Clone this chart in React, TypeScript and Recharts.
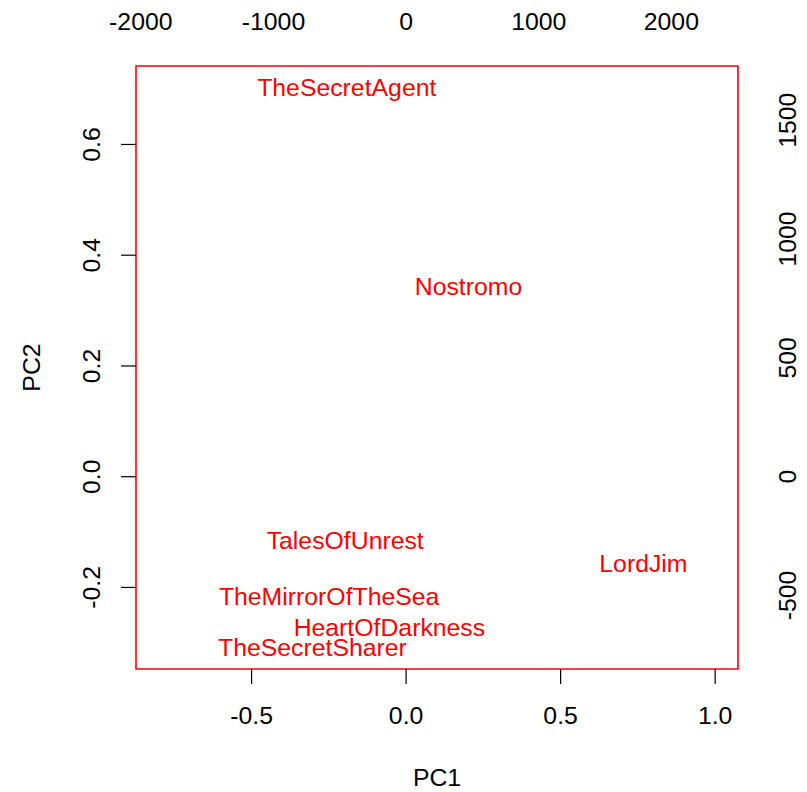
import { ScatterChart, Scatter, XAxis, YAxis, ReferenceArea, Label } from "recharts";

const bookNames = [
  "TheSecretAgent",
  "Nostromo",
  "TalesOfUnrest",
  "LordJim",
  "TheMirrorOfTheSea",
  "HeartOfDarkness",
  "TheSecretSharer",
];
const pc1Scores = [-0.192, 0.202, -0.197, 0.768, -0.249, -0.054, -0.303];
const pc2Scores = [0.704, 0.344, -0.114, -0.156, -0.216, -0.271, -0.308];

const pc1Ticks = [-0.5, 0, 0.5, 1];
const pc2Ticks = [-0.2, 0, 0.2, 0.4, 0.6];
const loadingXTicks = [-2000, -1000, 0, 1000, 2000];
const loadingYTicks = [-500, 0, 500, 1000, 1500];

// scale between scores and loadings (top / right axes)
const ratio = 2330;
const xDomain = [-0.874, 1.074];
const yDomain = [-0.3473, 0.7417];

const W = 807;
const H = 792;
const LEFT = 136;
const RIGHT = 738;
const TOP = 66;
const BOTTOM = 669;
const FONT = "'Liberation Sans', Arial, sans-serif";
const FS = 24.8;

const data = bookNames.map((name, i) => ({
  name,
  pc1: pc1Scores[i],
  pc2: pc2Scores[i],
}));

const fmt1 = (v: number) => v.toFixed(1);

const BottomTick = (props: any) => (
  <text x={props.x} y={BOTTOM + 55} textAnchor="middle" fontSize={FS} fontFamily={FONT} fill="#000">
    {fmt1(props.payload.value)}
  </text>
);

const TopTick = (props: any) => (
  <text x={props.x} y={30} textAnchor="middle" fontSize={FS} fontFamily={FONT} fill="#000">
    {props.payload.value}
  </text>
);

const LeftTick = (props: any) => {
  const x = 100;
  return (
    <text x={x} y={props.y} transform={`rotate(-90, ${x}, ${props.y})`} textAnchor="middle" fontSize={FS} fontFamily={FONT} fill="#000">
      {fmt1(props.payload.value)}
    </text>
  );
};

const RightTick = (props: any) => {
  const x = 796.5;
  return (
    <text x={x} y={props.y} transform={`rotate(-90, ${x}, ${props.y})`} textAnchor="middle" fontSize={FS} fontFamily={FONT} fill="#000">
      {props.payload.value}
    </text>
  );
};

const NameLabel = (props: any) => (
  <text x={props.cx} y={props.cy} dy={8.8} textAnchor="middle" fontSize={FS} fontFamily={FONT} fill="#FF0000">
    {props.payload.name}
  </text>
);

export default function App() {
  return (
    <div style={{ position: "absolute", left: 0, top: 0, background: "#fff" }}>
      <ScatterChart width={W} height={H} margin={{ top: 0, right: 0, bottom: 0, left: 0 }}>
        <XAxis
          xAxisId="bottom"
          type="number"
          dataKey="pc1"
          orientation="bottom"
          height={H - BOTTOM}
          domain={xDomain}
          ticks={pc1Ticks}
          allowDataOverflow
          axisLine={false}
          tickSize={15}
          tickLine={{ stroke: "#000", strokeWidth: 1.2 }}
          tick={BottomTick}
        >
          <Label
            content={() => (
              <text x={(LEFT + RIGHT) / 2} y={786} textAnchor="middle" fontSize={FS} fontFamily={FONT} fill="#000">
                PC1
              </text>
            )}
          />
        </XAxis>
        <XAxis
          xAxisId="top"
          type="number"
          dataKey="lx"
          orientation="top"
          height={TOP}
          domain={[xDomain[0] * ratio, xDomain[1] * ratio]}
          ticks={loadingXTicks}
          allowDataOverflow
          interval={0}
          axisLine={false}
          tickLine={false}
          tick={TopTick}
        />
        <YAxis
          yAxisId="left"
          type="number"
          dataKey="pc2"
          orientation="left"
          width={LEFT}
          domain={yDomain}
          ticks={pc2Ticks}
          allowDataOverflow
          axisLine={false}
          tickSize={15}
          tickLine={{ stroke: "#000", strokeWidth: 1.2 }}
          tick={LeftTick}
        >
          <Label
            content={() => (
              <text x={40} y={(TOP + BOTTOM) / 2} transform={`rotate(-90, 40, ${(TOP + BOTTOM) / 2})`} textAnchor="middle" fontSize={FS} fontFamily={FONT} fill="#000">
                PC2
              </text>
            )}
          />
        </YAxis>
        <YAxis
          yAxisId="right"
          type="number"
          dataKey="ly"
          orientation="right"
          width={W - RIGHT}
          domain={[yDomain[0] * ratio, yDomain[1] * ratio]}
          ticks={loadingYTicks}
          allowDataOverflow
          interval={0}
          axisLine={false}
          tickLine={false}
          tick={RightTick}
        />
        <ReferenceArea
          xAxisId="bottom"
          yAxisId="left"
          x1={xDomain[0]}
          x2={xDomain[1]}
          y1={yDomain[0]}
          y2={yDomain[1]}
          fill="none"
          fillOpacity={0}
          stroke="#FF0000"
          strokeWidth={1.6}
          ifOverflow="visible"
        />
        <Scatter
          xAxisId="bottom"
          yAxisId="left"
          data={data}
          shape={NameLabel}
          isAnimationActive={false}
        />
        <Scatter
          xAxisId="top"
          yAxisId="right"
          data={[]}
          isAnimationActive={false}
        />
      </ScatterChart>
    </div>
  );
}
